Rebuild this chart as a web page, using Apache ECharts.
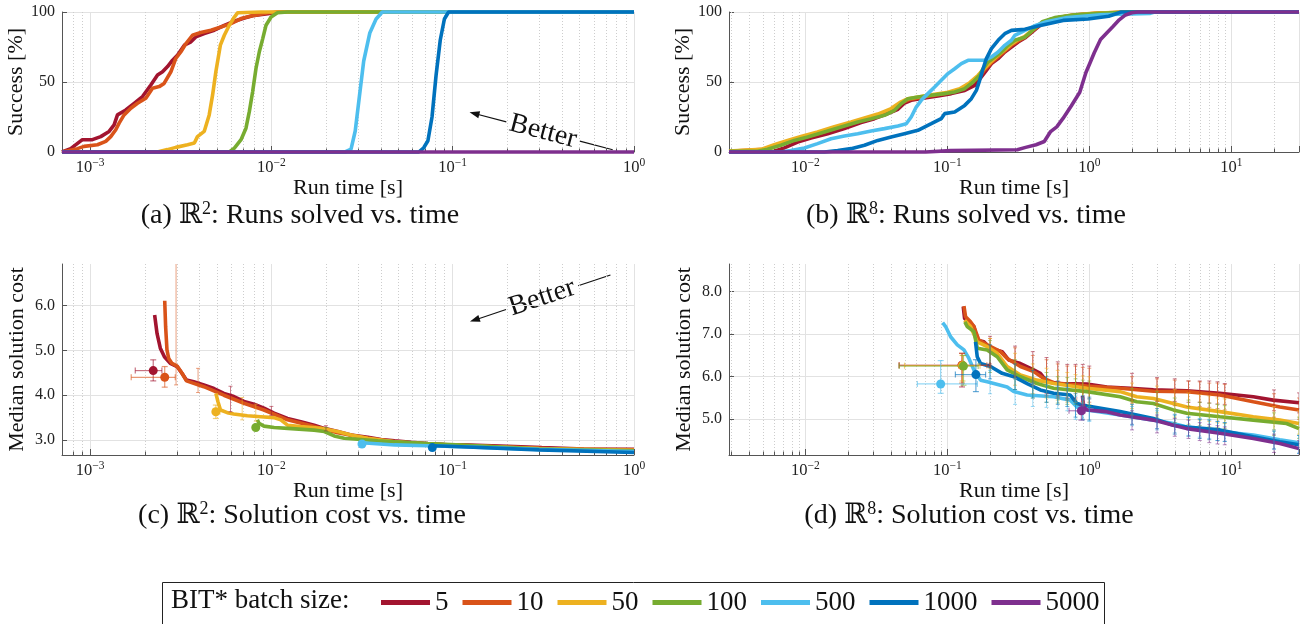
<!DOCTYPE html>
<html><head><meta charset="utf-8">
<script src="https://cdn.jsdelivr.net/npm/echarts@6/dist/echarts.min.js"></script>
<style>html,body{margin:0;padding:0;background:#fff}#c{width:1304px;height:624px}</style>
</head><body><div id="c"></div>
<script>
// ---------- categories / styling keys ----------
const batchSizes = ['5','10','50','100','500','1000','5000'];
const batchColors = ['#A2142F','#D95319','#EDB120','#77AC30','#4DBEEE','#0072BD','#7E2F8E'];

// ---------- axis ranges / tick labels ----------
const xRangeR2 = [7.0e-4, 1];
const xRangeR8 = [2.9e-3, 30];
const yRangeSuccess = [0, 100];
const yRangeCostR2 = [2.665, 6.93];
const yRangeCostR8 = [4.16, 8.65];
const yTicksSuccess = [0, 50, 100];
const yTicksCostR2 = [3, 4, 5, 6];
const yTicksCostR8 = [5, 6, 7, 8];

// ---------- (a) R^2 success [%] vs run time [s] ----------
const sa5 = [[7.0e-4,0],[7.82e-4,2.4],[9.07e-4,8.8],[1.03e-3,8.8],[1.145e-3,11],[1.273e-3,14.7],[1.357e-3,19.4],[1.416e-3,26.5],[1.574e-3,30],[1.75e-3,34.8],[1.946e-3,39.6],[2.163e-3,47.9],[2.355e-3,55],[2.51e-3,57.3],[2.675e-3,61],[2.85e-3,65.6],[3.04e-3,69.2],[3.31e-3,76.3],[3.6e-3,78.7],[3.83e-3,82.2],[4.26e-3,84.6],[4.84e-3,87],[5.5e-3,90.5],[6.25e-3,93.4],[7.1e-3,95.7],[8.05e-3,97.6],[9.55e-3,98.8],[0.01084,100],[1,100]];
const sa10 = [[7.0e-4,0],[8.51e-4,2.4],[9.27e-4,4],[1.098e-3,5.2],[1.22e-3,7.6],[1.3e-3,11],[1.386e-3,15.9],[1.446e-3,20.6],[1.54e-3,26.5],[1.678e-3,31.3],[1.826e-3,34.8],[2.03e-3,38.4],[2.21e-3,45.5],[2.405e-3,46.7],[2.56e-3,49],[2.79e-3,57.3],[2.97e-3,66.8],[3.17e-3,71.6],[3.38e-3,77.5],[3.67e-3,83.4],[4.08e-3,85.3],[4.64e-3,87],[5.27e-3,89.3],[5.98e-3,91.7],[6.8e-3,95.3],[8.05e-3,97.6],[9.55e-3,99.5],[0.0113,100],[1,100]];
const sa50 = [[7.0e-4,0],[2.35e-3,0],[2.67e-3,1.7],[2.97e-3,3.3],[3.45e-3,5.2],[3.76e-3,6.4],[3.91e-3,11],[4.26e-3,14.7],[4.54e-3,26.5],[4.74e-3,40.8],[4.94e-3,57.3],[5.23e-3,76.3],[5.5e-3,83.4],[5.86e-3,90.5],[6.25e-3,96.4],[6.52e-3,99.5],[8.77e-3,100],[1,100]];
const sa100 = [[7.0e-4,0],[5.86e-3,0],[6.25e-3,2.8],[6.8e-3,8.8],[7.24e-3,17],[7.56e-3,29],[7.88e-3,43],[8.23e-3,60],[8.58e-3,71.6],[8.96e-3,81],[9.34e-3,90.5],[9.96e-3,96.4],[0.0108,99.5],[0.0123,100],[1,100]];
const sa500 = [[7.0e-4,0],[0.0255,0],[0.0275,2],[0.029,15],[0.0306,40],[0.0323,65],[0.0349,85],[0.0378,95],[0.0409,100],[1,100]];
const sa1000 = [[7.0e-4,0],[0.065,0],[0.0692,3],[0.073,8],[0.0769,25],[0.081,55],[0.0854,80],[0.09,95],[0.0949,100],[1,100]];
const sa5000 = [[7.0e-4,0],[1,0]];

// ---------- (b) R^8 success [%] vs run time [s] ----------
const sb5 = [[2.9e-3,0],[6.04e-3,0.5],[7.11e-3,2.9],[8.83e-3,7.1],[0.01096,10],[0.01438,13.1],[0.01885,16.7],[0.0247,21],[0.0307,23.8],[0.0381,27.4],[0.0449,30.5],[0.05,35],[0.0557,36.9],[0.0692,38.6],[0.0859,40],[0.1067,41.7],[0.1326,44],[0.156,47.6],[0.1738,53.6],[0.1884,58.3],[0.2045,63.1],[0.228,66.7],[0.254,71.4],[0.283,75],[0.3155,78.6],[0.3515,81.4],[0.47,92],[0.57,95.5],[0.8,98],[1.25,99],[2.0,100],[30,100]];
const sb10 = [[2.9e-3,0.5],[5.14e-3,1.9],[6.38e-3,4.8],[7.92e-3,7.9],[9.84e-3,10.5],[0.0129,13.8],[0.0169,17.4],[0.0222,21],[0.0275,23.8],[0.0342,26.7],[0.0413,30.5],[0.0473,35],[0.0542,37.6],[0.0655,39],[0.0814,40.5],[0.1011,42.1],[0.1256,44.8],[0.1476,49.3],[0.169,54],[0.1834,58.8],[0.2045,63.8],[0.228,67.9],[0.254,72.1],[0.283,76.2],[0.3155,79.3],[0.3515,82],[0.45,91],[0.55,95],[0.75,97.5],[1.1,99],[1.85,100],[30,100]];
const sb50 = [[2.9e-3,0.7],[4.87e-3,1.9],[6.04e-3,5.2],[7.5e-3,8.3],[9.32e-3,11],[0.0122,14.3],[0.016,18.1],[0.021,21.4],[0.0261,24.3],[0.0324,27.1],[0.0402,31],[0.0461,35.2],[0.0528,38.1],[0.0638,39.5],[0.0792,41],[0.0984,42.4],[0.1222,45.2],[0.1438,49.5],[0.1647,54.8],[0.1815,59.5],[0.2023,64.3],[0.2254,68.6],[0.2512,72.6],[0.28,76.7],[0.312,80],[0.3515,82.6],[0.44,91],[0.54,95],[0.72,97.5],[1.05,99],[1.8,100],[30,100]];
const sb100 = [[2.9e-3,0.5],[4.61e-3,0.5],[5.42e-3,1.9],[6.73e-3,4.8],[8.36e-3,8.3],[0.01039,10.7],[0.01362,14.3],[0.01786,17.9],[0.0234,21.4],[0.0291,23.8],[0.0361,26.2],[0.0425,29.8],[0.0473,34.5],[0.0528,38.1],[0.0621,39.3],[0.0771,40.5],[0.0957,41.7],[0.1127,42.9],[0.1326,45.2],[0.1518,50],[0.169,54.8],[0.1786,59.5],[0.1936,64.3],[0.2159,67.9],[0.2405,71.4],[0.268,76.2],[0.2985,79.8],[0.3515,82],[0.466,93],[0.571,96],[0.8,98],[1.2,99],[1.93,100],[30,100]];
const sb500 = [[2.9e-3,0],[6.73e-3,0],[7.9e-3,1],[9.84e-3,2.9],[0.0122,6],[0.01518,9.5],[0.01885,11.4],[0.0234,13.1],[0.0291,15],[0.0361,16.7],[0.0449,18.6],[0.0514,20.2],[0.0557,25],[0.0604,32.1],[0.0655,36.9],[0.073,41.7],[0.0814,46.4],[0.0907,51.2],[0.1011,56],[0.1127,59.5],[0.1256,63.1],[0.14,65.5],[0.1835,65.5],[0.2045,67.9],[0.228,71.4],[0.254,76.2],[0.283,79.8],[0.2985,83.3],[0.333,85.7],[0.408,90],[0.499,93],[0.7,96],[1.2,98],[2.69,99],[2.88,100],[30,100]];
const sb1000 = [[2.9e-3,0],[0.0136,0],[0.0169,1],[0.021,2.4],[0.0261,4.8],[0.0324,8.3],[0.0402,10.7],[0.0499,13.1],[0.0621,15.5],[0.0771,20.2],[0.0906,23.8],[0.0957,27.4],[0.1127,28.6],[0.1326,33.3],[0.1477,38.1],[0.1602,44],[0.169,51.2],[0.1786,59.5],[0.1884,66.7],[0.2045,73.8],[0.228,79.8],[0.254,84.5],[0.283,86.9],[0.3515,87.6],[0.436,90],[0.534,92],[0.654,94],[0.98,95],[1.37,97],[1.68,100],[30,100]];
const sb5000 = [[2.9e-3,0],[0.0704,0],[0.1055,1],[0.311,1.6],[0.356,3.3],[0.422,5.2],[0.482,7.5],[0.534,14.6],[0.59,18],[0.653,24],[0.748,33],[0.857,42.7],[0.947,56.8],[1.013,63.8],[1.084,70.9],[1.2,80.3],[1.327,85],[1.469,89.7],[1.625,94.4],[1.8,97.9],[1.99,99.5],[2.2,100],[30,100]];

// ---------- (c) R^2 median solution cost vs run time ----------
const sc5 = [[2.27e-3,5.79],[2.34e-3,5.38],[2.44e-3,5.05],[2.57e-3,4.86],[2.77e-3,4.71],[3.02e-3,4.64],[3.21e-3,4.49],[3.4e-3,4.34],[3.73e-3,4.30],[4.24e-3,4.23],[4.82e-3,4.15],[5.47e-3,4.04],[6.21e-3,3.97],[7.06e-3,3.86],[8.02e-3,3.80],[9.1e-3,3.71],[0.01035,3.60],[0.01227,3.48],[0.01453,3.41],[0.01722,3.33],[0.01956,3.26],[0.0232,3.19],[0.0275,3.11],[0.034,3.06],[0.0403,3.01],[0.0478,2.98],[0.059,2.95],[0.073,2.92],[0.0903,2.90],[0.1117,2.89],[0.2,2.86],[0.31,2.83],[0.53,2.80],[1,2.79]];
const sc10 = [[2.58e-3,6.11],[2.61e-3,5.53],[2.655e-3,5.01],[2.715e-3,4.82],[2.83e-3,4.71],[3.02e-3,4.65],[3.216e-3,4.49],[3.4e-3,4.32],[4.24e-3,4.19],[5.47e-3,4.0],[7.06e-3,3.82],[9.1e-3,3.67],[0.01227,3.45],[0.01722,3.30],[0.0232,3.16],[0.034,3.04],[0.0478,2.96],[0.073,2.91],[0.1117,2.88],[0.2,2.84],[0.4,2.80],[1,2.78]];
const sc50 = [[4.94e-3,4.04],[5.07e-3,3.86],[5.24e-3,3.67],[5.71e-3,3.61],[6.2e-3,3.58],[7.36e-3,3.54],[8.73e-3,3.52],[0.0103,3.50],[0.01127,3.45],[0.01227,3.33],[0.0145,3.30],[0.01875,3.26],[0.0232,3.19],[0.0275,3.11],[0.034,3.04],[0.0478,2.96],[0.073,2.91],[0.12,2.87],[0.3,2.81],[1,2.77]];
const sc100 = [[8.37e-3,3.45],[8.55e-3,3.37],[9.1e-3,3.31],[0.01035,3.28],[0.0123,3.26],[0.0172,3.22],[0.0196,3.19],[0.0222,3.09],[0.0252,3.04],[0.0312,3.01],[0.0386,2.98],[0.0478,2.96],[0.073,2.92],[0.1117,2.89],[0.3,2.80],[1,2.76]];
const sc500 = [[0.0316,2.94],[0.0478,2.89],[0.073,2.87],[0.1117,2.85],[0.3,2.79],[1,2.74]];
const sc1000 = [[0.0786,2.87],[0.1117,2.85],[0.3,2.78],[1,2.72]];
// first-solution markers: [time, cost, timeLo, timeHi, costLo, costHi]
const mc5 = [[2.23e-3,4.55,1.775e-3,2.49e-3,4.32,4.79]];
const mc10 = [[2.58e-3,4.40,1.686e-3,2.95e-3,4.18,4.64]];
const mc50 = [[4.94e-3,3.63,4.8e-3,5.2e-3,3.48,3.78]];
const mc100 = [[8.2e-3,3.28,8.0e-3,8.4e-3,3.24,3.32]];
const mc500 = [[0.0316,2.91,0.031,0.0325,2.89,2.93]];
const mc1000 = [[0.0772,2.83,0.076,0.079,2.81,2.86]];
// error bars: [time, lo, hi]
const ec5 = [[5.95e-3,3.63,4.2],[0.01,3.55,3.75],[0.02,3.2,3.32]];
const ec10 = [[2.98e-3,4.23,7.5],[3.94e-3,4.06,4.6]];
const ec50 = [[6.9e-3,3.45,3.95],[8.2e-3,3.42,3.8]];
const ec100 = [[0.02,3.18,3.28]];

// ---------- (d) R^8 median solution cost vs run time ----------
const sd5 = [[0.1295,7.65],[0.1324,7.37],[0.142,7.30],[0.154,7.18],[0.1625,6.86],[0.181,6.82],[0.2015,6.67],[0.2433,6.59],[0.2713,6.39],[0.3275,6.31],[0.406,6.16],[0.4524,6.08],[0.5042,5.88],[0.6255,5.84],[0.963,5.83],[1.33,5.76],[1.94,5.73],[2.83,5.69],[4.86,5.67],[8.32,5.61],[10.9,5.57],[14.3,5.53],[19.7,5.45],[30,5.39]];
const sd10 = [[0.131,7.66],[0.1345,7.41],[0.1458,7.29],[0.154,7.18],[0.1669,6.86],[0.191,6.75],[0.237,6.59],[0.264,6.43],[0.3275,6.24],[0.406,6.12],[0.478,5.96],[0.561,5.86],[0.963,5.78],[1.65,5.73],[2.83,5.66],[4.86,5.65],[8.32,5.57],[14.3,5.41],[22,5.29],[30,5.22]];
const sd50 = [[0.1324,7.33],[0.1458,7.18],[0.1625,6.82],[0.191,6.71],[0.2245,6.55],[0.264,6.24],[0.3275,6.04],[0.4287,5.92],[0.561,5.84],[0.963,5.73],[1.65,5.65],[2.16,5.53],[2.83,5.49],[3.91,5.37],[4.86,5.29],[8.32,5.18],[14.3,5.06],[22,4.98],[30,4.9]];
const sd100 = [[0.133,7.29],[0.138,7.18],[0.154,7.06],[0.1625,6.67],[0.191,6.63],[0.2245,6.47],[0.264,6.16],[0.3275,6.0],[0.4287,5.84],[0.561,5.73],[0.963,5.65],[1.65,5.53],[2.16,5.41],[2.83,5.37],[3.91,5.22],[4.86,5.14],[8.32,5.06],[14.3,4.98],[24.5,4.9],[30,4.78]];
const sd500 = [[0.0927,7.27],[0.0973,7.18],[0.1055,6.94],[0.1176,6.75],[0.131,6.63],[0.142,6.43],[0.154,6.16],[0.1715,5.92],[0.191,5.88],[0.264,5.76],[0.294,5.65],[0.365,5.57],[0.561,5.53],[0.735,5.45],[0.819,5.29],[0.963,5.22],[1.65,5.10],[2.83,4.98],[3.91,4.90],[4.86,4.82],[8.32,4.71],[14.3,4.63],[22,4.52],[30,4.45]];
const sd1000 = [[0.158,6.82],[0.1625,6.47],[0.1715,6.31],[0.2015,6.24],[0.2433,6.08],[0.294,6.0],[0.365,5.84],[0.452,5.69],[0.561,5.61],[0.735,5.57],[0.819,5.37],[0.912,5.33],[1.07,5.29],[1.65,5.18],[2.83,5.02],[3.91,4.86],[4.86,4.82],[8.32,4.75],[14.3,4.59],[22,4.47],[30,4.40]];
const sd5000 = [[0.896,5.55],[0.912,5.29],[0.963,5.22],[1.3,5.18],[1.65,5.10],[2.83,4.98],[3.91,4.86],[4.86,4.78],[8.32,4.67],[14.3,4.55],[22,4.43],[30,4.31]];
const md5 = [[0.127,6.27,0.0458,0.2,5.76,6.55]];
const md10 = [[0.127,6.27,0.0458,0.19,5.85,6.55]];
const md50 = [[0.128,6.26,0.05,0.17,5.9,6.5]];
const md100 = [[0.13,6.25,0.0458,0.165,5.8,6.5]];
const md500 = [[0.0898,5.83,0.0615,0.163,5.61,6.38]];
const md1000 = [[0.159,6.05,0.114,0.186,5.65,6.4]];
const md5000 = [[0.88,5.2,0.72,0.93,4.98,5.33]];
const ed5 = [[0.2,6.3,6.95],[0.3,6.0,6.72],[0.4,5.85,6.59],[0.5,5.6,6.45],[0.6,5.55,6.35],[0.7,5.5,6.29],[0.8,5.5,6.29],[0.9,5.5,6.29],[1,5.48,6.25],[2,5.45,6.08],[3,5.42,5.98],[4,5.42,5.95],[5,5.4,5.9],[6,5.4,5.9],[7,5.38,5.9],[8,5.36,5.88],[9,5.35,5.84],[20,5.2,5.69],[30,5.15,5.62]];
const ed10 = [[0.2,6.25,6.9],[0.3,5.95,6.68],[0.4,5.8,6.5],[0.5,5.55,6.4],[0.6,5.5,6.3],[0.7,5.45,6.25],[0.8,5.45,6.25],[0.9,5.42,6.22],[1,5.4,6.2],[2,5.38,6.0],[3,5.35,5.95],[4,5.32,5.92],[5,5.3,5.9],[6,5.3,5.88],[7,5.28,5.85],[8,5.25,5.85],[9,5.22,5.82],[20,5.05,5.6],[30,5.0,5.5]];
const ed50 = [[0.2,6.2,6.9],[0.3,5.8,6.55],[0.4,5.6,6.3],[0.5,5.5,6.2],[0.6,5.45,6.15],[0.7,5.4,6.1],[0.8,5.4,6.05],[0.9,5.38,6.02],[1,5.35,6.0],[2,5.25,5.85],[3,5.15,5.78],[4,5.05,5.7],[5,5.0,5.62],[6,4.98,5.58],[7,4.95,5.55],[8,4.92,5.5],[9,4.9,5.48],[20,4.75,5.3],[30,4.65,5.2]];
const ed100 = [[0.2,6.1,6.85],[0.3,5.7,6.4],[0.4,5.5,6.2],[0.5,5.4,6.1],[0.6,5.38,6.0],[0.7,5.35,5.98],[0.8,5.35,5.95],[0.9,5.32,5.92],[1,5.3,5.9],[2,5.1,5.72],[3,5.05,5.65],[4,4.92,5.5],[5,4.88,5.45],[6,4.85,5.4],[7,4.82,5.38],[8,4.8,5.35],[9,4.78,5.32],[20,4.62,5.15],[30,4.55,5.05]];
const ed500 = [[0.2,5.6,6.15],[0.3,5.35,5.95],[0.4,5.3,5.85],[0.5,5.28,5.8],[0.6,5.25,5.78],[0.7,5.2,5.75],[0.8,5.0,5.55],[0.9,4.98,5.5],[1,4.95,5.48],[2,4.85,5.3],[3,4.75,5.2],[4,4.68,5.12],[5,4.62,5.05],[6,4.58,5.02],[7,4.55,5.0],[8,4.5,4.95],[9,4.48,4.92],[20,4.3,4.75],[30,4.2,4.62]];
const ed1000 = [[0.2,5.95,6.75],[0.3,5.7,6.3],[0.4,5.5,6.15],[0.5,5.4,6.0],[0.6,5.35,5.9],[0.7,5.3,5.85],[0.8,5.05,5.6],[0.9,5.0,5.55],[1,4.98,5.52],[2,4.88,5.35],[3,4.78,5.25],[4,4.65,5.1],[5,4.6,5.05],[6,4.55,5.0],[7,4.52,4.98],[8,4.5,4.95],[9,4.48,4.92],[20,4.3,4.72],[30,4.2,4.62]];
const ed5000 = [[2,4.75,5.2],[3,4.68,5.1],[4,4.6,5.02],[5,4.55,4.98],[6,4.5,4.92],[7,4.45,4.88],[8,4.42,4.85],[9,4.4,4.82],[20,4.22,4.65],[30,4.12,4.5]];

// ---------- texts ----------
const xAxisTitle = 'Run time [s]';
const ySuccessTitle = 'Success [%]';
const yCostTitle = 'Median solution cost';
const legendTitle = 'BIT* batch size:';
const annotationText = 'Better';

// ---------- build ----------
const FONT = "'Liberation Serif','DejaVu Serif',serif";
const AX = '#555';
const GRIDC = '#e2e2e2';

function rgba(hex, a){const n=parseInt(hex.slice(1),16);return 'rgba('+((n>>16)&255)+','+((n>>8)&255)+','+(n&255)+','+a+')';}

function powLabel(v){
  const l = Math.log10(v), e = Math.round(l);
  if (Math.abs(l-e) > 1e-6) return '';
  return '{b|10}{s|' + (e<0 ? '\u2212'+(-e) : e) + '}';
}

const grids = [
  {left:62, top:12, width:572, height:140},
  {left:729, top:12, width:570, height:140},
  {left:62, top:264, width:572, height:191},
  {left:729, top:264, width:570, height:191}
].map(g=>Object.assign({outerBoundsMode:'none', containLabel:false}, g));

function xAxisCfg(gi, range, gap){
  return {type:'log', logBase:10, gridIndex:gi, min:range[0], max:range[1],
    name:xAxisTitle, nameLocation:'middle', nameGap:gap,
    nameTextStyle:{fontFamily:FONT, fontSize:22, color:'#111'},
    axisLine:{onZero:false, lineStyle:{color:AX, width:1}},
    axisTick:{inside:true, length:6, lineStyle:{color:AX}},
    axisLabel:{margin:5, formatter:powLabel, fontFamily:FONT, color:'#222',
      rich:{b:{fontFamily:FONT, fontSize:16.5, color:'#222', lineHeight:21},
            s:{fontFamily:FONT, fontSize:11.5, color:'#222', lineHeight:12, verticalAlign:'top'}}},
    splitLine:{show:true, lineStyle:{color:GRIDC, width:1}}};
}
function yAxisCfg(gi, range, ticks, name, fmt){
  return {type:'value', gridIndex:gi, min:range[0], max:range[1],
    name:name, nameLocation:'middle', nameGap:34,
    nameTextStyle:{fontFamily:FONT, fontSize:22, color:'#111'},
    axisLine:{show:true, onZero:false, lineStyle:{color:AX, width:1}},
    axisTick:{show:true, inside:true, length:5, customValues:ticks, lineStyle:{color:AX}},
    axisLabel:{customValues:ticks, margin:7, fontFamily:FONT, fontSize:16, color:'#222', formatter:fmt},
    splitLine:{show:true, lineStyle:{color:GRIDC, width:1}}};
}

function lineSeries(gi, idx, data, clip){
  return {type:'line', name:batchSizes[idx], xAxisIndex:gi, yAxisIndex:gi, data:data,
    showSymbol:false, symbol:'none', clip:clip, z:2+idx*0.01,
    lineStyle:{color:batchColors[idx], width:3.6},
    itemStyle:{color:batchColors[idx]}, emphasis:{disabled:true}};
}
function minorSeries(gi, xr, yv){
  return {type:'custom', xAxisIndex:gi, yAxisIndex:gi, z:1, silent:true, data:[[xr[1], yv]],
    renderItem:function(params, api){
      const cs = params.coordSys, ch = [];
      const lo = Math.floor(Math.log10(xr[0])), hi = Math.ceil(Math.log10(xr[1]));
      for (let e=lo; e<hi; e++) for (let k=2; k<=9; k++){
        const v = k*Math.pow(10,e);
        if (v<=xr[0] || v>=xr[1]) continue;
        const x = Math.round(api.coord([v, yv])[0]) + 0.5;
        ch.push({type:'line', shape:{x1:x,y1:cs.y,x2:x,y2:cs.y+cs.height}, style:{stroke:'#cdcdcd', lineWidth:1, lineDash:[1,2]}});
        ch.push({type:'line', shape:{x1:x,y1:cs.y+cs.height,x2:x,y2:cs.y+cs.height-3.5}, style:{stroke:AX, lineWidth:1}});
      }
      return {type:'group', children:ch};
    }};
}
function errSeries(gi, idx, data){
  const col = rgba(batchColors[idx], 0.55);
  return {type:'custom', xAxisIndex:gi, yAxisIndex:gi, z:3, silent:true, clip:true, data:data,
    renderItem:function(params, api){
      const t = api.value(0), a = api.coord([t, api.value(1)]), b = api.coord([t, api.value(2)]);
      const x = a[0], c = 2, st = {stroke:col, lineWidth:1};
      return {type:'group', children:[
        {type:'line', shape:{x1:x,y1:a[1],x2:x,y2:b[1]}, style:st},
        {type:'line', shape:{x1:x-c,y1:a[1],x2:x+c,y2:a[1]}, style:st},
        {type:'line', shape:{x1:x-c,y1:b[1],x2:x+c,y2:b[1]}, style:st}]};
    }};
}
function markerSeries(gi, idx, data){
  const col = batchColors[idx], bar = rgba(col, 0.6);
  return {type:'custom', xAxisIndex:gi, yAxisIndex:gi, z:4, silent:true, clip:true, data:data,
    renderItem:function(params, api){
      const t = api.value(0), y = api.value(1);
      const p = api.coord([t, y]), l = api.coord([api.value(2), y]), r = api.coord([api.value(3), y]);
      const d = api.coord([t, api.value(4)]), u = api.coord([t, api.value(5)]);
      const st = {stroke:bar, lineWidth:1.2}, c = 3;
      return {type:'group', children:[
        {type:'line', shape:{x1:l[0],y1:p[1],x2:r[0],y2:p[1]}, style:st},
        {type:'line', shape:{x1:l[0],y1:p[1]-c,x2:l[0],y2:p[1]+c}, style:st},
        {type:'line', shape:{x1:r[0],y1:p[1]-c,x2:r[0],y2:p[1]+c}, style:st},
        {type:'line', shape:{x1:p[0],y1:d[1],x2:p[0],y2:u[1]}, style:st},
        {type:'line', shape:{x1:p[0]-c,y1:d[1],x2:p[0]+c,y2:d[1]}, style:st},
        {type:'line', shape:{x1:p[0]-c,y1:u[1],x2:p[0]+c,y2:u[1]}, style:st},
        {type:'circle', shape:{cx:p[0], cy:p[1], r:4.5}, style:{fill:col}}]};
    }};
}

const succA = [sa5, sa10, sa50, sa100, sa500, sa1000, sa5000];
const succB = [sb5, sb10, sb50, sb100, sb500, sb1000, sb5000];
const costC = [sc5, sc10, sc50, sc100, sc500, sc1000];
const costD = [sd5, sd10, sd50, sd100, sd500, sd1000, sd5000];
const markC = [mc5, mc10, mc50, mc100, mc500, mc1000];
const markD = [md5, md10, md50, md100, md500, md1000, md5000];
const errC = [ec5, ec10, ec50, ec100];
const errD = [ed5, ed10, ed50, ed100, ed500, ed1000, ed5000];

const series = [];
series.push(minorSeries(0, xRangeR2, 50), minorSeries(1, xRangeR8, 50),
            minorSeries(2, xRangeR2, 4), minorSeries(3, xRangeR8, 6));
succA.forEach((d,i)=>series.push(lineSeries(0, i, d, false)));
succB.forEach((d,i)=>series.push(lineSeries(1, i, d, false)));
costC.forEach((d,i)=>series.push(lineSeries(2, i, d, true)));
costD.forEach((d,i)=>series.push(lineSeries(3, i, d, true)));
errC.forEach((d,i)=>series.push(errSeries(2, i, d)));
errD.forEach((d,i)=>series.push(errSeries(3, i, d)));
markC.forEach((d,i)=>series.push(markerSeries(2, i, d)));
markD.forEach((d,i)=>series.push(markerSeries(3, i, d)));

function caption(x, y, tag, dim, rest){
  return {type:'text', x:x, y:y, silent:true, style:{
    text:'{n|'+tag+' \u211D}{s|'+dim+'}{n|: '+rest+'}', align:'center', verticalAlign:'middle',
    rich:{n:{fontFamily:FONT, fontSize:28, lineHeight:31, fill:'#111'},
          s:{fontFamily:FONT, fontSize:18, lineHeight:16, verticalAlign:'top', fill:'#111'}}}};
}
function better(cx, cy, rot){
  return {type:'group', x:cx, y:cy, rotation:rot, silent:true, children:[
    {type:'line', shape:{x1:-72,y1:0,x2:-40,y2:0}, style:{stroke:'#111', lineWidth:1.1}},
    {type:'polygon', shape:{points:[[-78,0],[-68,-3.5],[-68,3.5]]}, style:{fill:'#111'}},
    {type:'text', x:-2, y:0, style:{text:annotationText, align:'center', verticalAlign:'middle', fontFamily:FONT, fontSize:28, fill:'#111'}},
    {type:'line', shape:{x1:36,y1:0,x2:70,y2:0}, style:{stroke:'#111', lineWidth:1.1}}]};
}

const option = {
  animation:false,
  backgroundColor:'#fff',
  grid:grids,
  xAxis:[xAxisCfg(0, xRangeR2, 21), xAxisCfg(1, xRangeR8, 21), xAxisCfg(2, xRangeR2, 20), xAxisCfg(3, xRangeR8, 20)],
  yAxis:[
    yAxisCfg(0, yRangeSuccess, yTicksSuccess, ySuccessTitle, v=>String(v)),
    yAxisCfg(1, yRangeSuccess, yTicksSuccess, ySuccessTitle, v=>String(v)),
    yAxisCfg(2, yRangeCostR2, yTicksCostR2, yCostTitle, v=>v.toFixed(1)),
    yAxisCfg(3, yRangeCostR8, yTicksCostR8, yCostTitle, v=>v.toFixed(1))],
  legend:{data:batchSizes, left:376, top:584, orient:'horizontal', icon:'rect',
    itemWidth:49, itemHeight:5, itemGap:14, selectedMode:false,
    textStyle:{fontFamily:FONT, fontSize:27, color:'#111'}},
  graphic:[
    caption(300, 216, '(a)', '2', 'Runs solved vs. time'),
    caption(966, 216, '(b)', '8', 'Runs solved vs. time'),
    caption(302, 516, '(c)', '2', 'Solution cost vs. time'),
    caption(969, 516, '(d)', '8', 'Solution cost vs. time'),
    better(545, 132, -0.2565),
    better(544, 297, 0.32),
    {type:'rect', shape:{x:162.5, y:582.5, width:942, height:60}, style:{fill:'none', stroke:'#222', lineWidth:1}, silent:true},
    {type:'text', x:171, y:601, silent:true, style:{text:legendTitle, fontFamily:FONT, fontSize:27, fill:'#111', verticalAlign:'middle'}}
  ],
  series:series
};
const chart = echarts.init(document.getElementById('c'), null, {renderer:'canvas'});
chart.setOption(option);
</script></body></html>
